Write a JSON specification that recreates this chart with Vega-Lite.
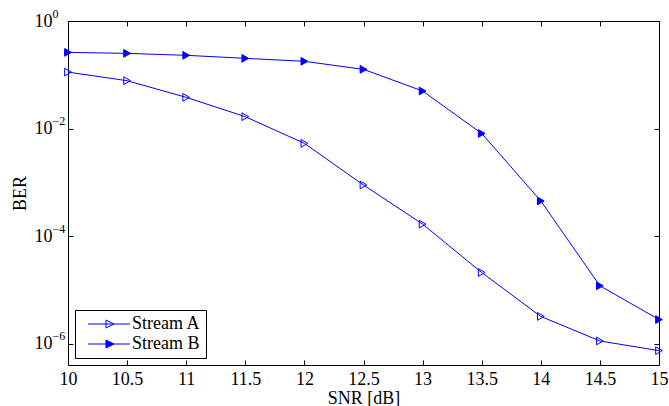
{
  "$schema": "https://vega.github.io/schema/vega-lite/v6.json",
  "width": 591,
  "height": 344,
  "autosize": "none",
  "padding": {"left": 68, "top": 21, "right": 10, "bottom": 41},
  "config": {
    "font": "Liberation Serif",
    "view": {"stroke": null},
    "axis": {"grid": false, "domainColor": "#000000", "domainWidth": 1, "tickColor": "#000000", "tickWidth": 1, "labelColor": "#000000", "titleColor": "#000000", "labelFont": "Liberation Serif", "titleFont": "Liberation Serif", "labelFontSize": 18, "titleFontSize": 18, "titleFontWeight": "normal"}
  },
  "data": {
    "values": [
      {"snr": 10, "ber": 0.112, "series": "Stream A"},
      {"snr": 10.5, "ber": 0.0776, "series": "Stream A"},
      {"snr": 11, "ber": 0.038, "series": "Stream A"},
      {"snr": 11.5, "ber": 0.0166, "series": "Stream A"},
      {"snr": 12, "ber": 0.0053, "series": "Stream A"},
      {"snr": 12.5, "ber": 0.00089, "series": "Stream A"},
      {"snr": 13, "ber": 0.000167, "series": "Stream A"},
      {"snr": 13.5, "ber": 0.000021, "series": "Stream A"},
      {"snr": 14, "ber": 0.0000032, "series": "Stream A"},
      {"snr": 14.5, "ber": 0.00000112, "series": "Stream A"},
      {"snr": 15, "ber": 0.00000074, "series": "Stream A"},
      {"snr": 10, "ber": 0.261, "series": "Stream B"},
      {"snr": 10.5, "ber": 0.25, "series": "Stream B"},
      {"snr": 11, "ber": 0.23, "series": "Stream B"},
      {"snr": 11.5, "ber": 0.202, "series": "Stream B"},
      {"snr": 12, "ber": 0.178, "series": "Stream B"},
      {"snr": 12.5, "ber": 0.126, "series": "Stream B"},
      {"snr": 13, "ber": 0.0499, "series": "Stream B"},
      {"snr": 13.5, "ber": 0.0081, "series": "Stream B"},
      {"snr": 14, "ber": 0.00045, "series": "Stream B"},
      {"snr": 14.5, "ber": 0.0000119, "series": "Stream B"},
      {"snr": 15, "ber": 0.0000028, "series": "Stream B"}
    ]
  },
  "layer": [
    {
      "mark": {"type": "line", "color": "#0000ff", "strokeWidth": 1},
      "encoding": {
        "x": {"field": "snr", "type": "quantitative", "scale": {"domain": [10, 15], "zero": false, "nice": false},
          "axis": {"orient": "bottom", "title": "SNR [dB]", "values": [10, 10.5, 11, 11.5, 12, 12.5, 13, 13.5, 14, 14.5, 15], "format": "~g", "tickSize": -5, "labelPadding": 10, "titlePadding": 1, "labelFlush": false}},
        "y": {"field": "ber", "type": "quantitative", "scale": {"type": "log", "domain": [0.0000004, 1], "nice": false},
          "axis": {"orient": "left", "title": "BER", "values": [1, 0.01, 0.0001, 0.000001], "labelExpr": "'10'", "tickSize": -5, "labelPadding": 21, "titlePadding": 5}},
        "detail": {"field": "series"}
      }
    },
    {
      "mark": {"type": "point", "shape": "triangle-right", "size": 60, "stroke": "#0000ff", "strokeWidth": 1, "opacity": 1},
      "encoding": {
        "x": {"field": "snr", "type": "quantitative", "axis": null},
        "y": {"field": "ber", "type": "quantitative", "axis": null},
        "fill": {"field": "series", "type": "nominal", "scale": {"domain": ["Stream A", "Stream B"], "range": ["transparent", "#0000ff"]},
          "legend": {"title": null, "orient": "bottom-left", "offset": 7, "labelFont": "Liberation Serif", "labelFontSize": 18, "labelColor": "#000000", "strokeColor": "#000000", "fillColor": "#ffffff", "padding": 5, "rowPadding": 2, "symbolSize": 64, "symbolType": "M-0.25,0L10.25,0M4.25,-1L6.25,0L4.25,1Z", "symbolStrokeColor": "#0000ff", "symbolStrokeWidth": 1, "labelOffset": 34}
        }
      }
    },
    {
      "mark": {"type": "line", "strokeOpacity": 0},
      "encoding": {
        "x": {"field": "snr", "type": "quantitative", "axis": {"orient": "top", "title": null, "labels": false, "values": [10, 10.5, 11, 11.5, 12, 12.5, 13, 13.5, 14, 14.5, 15], "tickSize": -5}},
        "y": {"field": "ber", "type": "quantitative", "axis": {"orient": "right", "title": null, "labels": false, "values": [1, 0.01, 0.0001, 0.000001], "tickSize": -5}},
        "detail": {"field": "series"}
      }
    },
    {
      "mark": {"type": "line", "strokeOpacity": 0},
      "encoding": {
        "x": {"field": "snr", "type": "quantitative", "axis": null},
        "y": {"field": "ber", "type": "quantitative", "axis": {"orient": "left", "title": null, "domain": false, "ticks": false, "values": [1, 0.01, 0.0001, 0.000001], "labelExpr": "datum.value > 0.5 ? '0' : datum.value > 0.005 ? '−2' : datum.value > 0.00005 ? '−4' : '−6'", "labelFontSize": 12, "labelAlign": "left", "labelPadding": 16, "labelOffset": -8}},
        "detail": {"field": "series"}
      }
    }
  ],
  "resolve": {"axis": {"x": "independent", "y": "independent"}}
}
